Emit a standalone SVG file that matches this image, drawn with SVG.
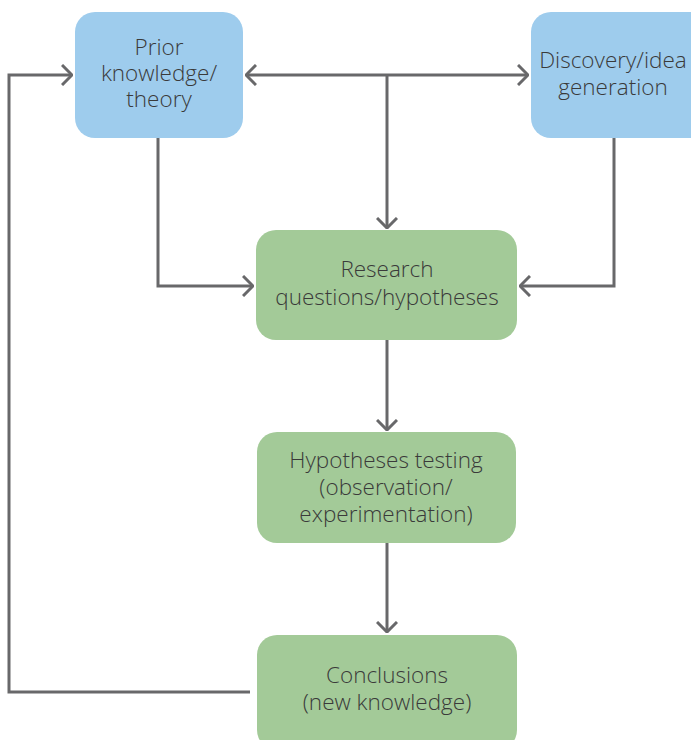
<svg xmlns="http://www.w3.org/2000/svg" width="691" height="740" viewBox="0 0 691 740">
<style>
.blue{fill:#9ecced}
.green{fill:#a3ca98}
text{font-family:"Open Sans","Liberation Sans",sans-serif;font-weight:300;font-size:22.5px;fill:#3a3a3a;text-anchor:middle}
.c{fill:none;stroke:#68686a;stroke-width:3}
</style>
<defs>
<marker id="ah" viewBox="0 0 12 22" refX="11" refY="11" markerWidth="12" markerHeight="22" markerUnits="userSpaceOnUse" orient="auto-start-reverse">
<path d="M1,1 L11,11 L1,21" fill="none" stroke="#68686a" stroke-width="3"/>
</marker>
</defs>
<g id="connectors">
<path class="c" d="M250,692 H9 V75 H72" marker-end="url(#ah)"/>
<path class="c" d="M246,75 H528" marker-start="url(#ah)" marker-end="url(#ah)"/>
<path class="c" d="M387,75 V228" marker-end="url(#ah)"/>
<path class="c" d="M158,138 V286 H253" marker-end="url(#ah)"/>
<path class="c" d="M614,138 V286 H520" marker-end="url(#ah)"/>
<path class="c" d="M387,340 V430" marker-end="url(#ah)"/>
<path class="c" d="M387,543 V632" marker-end="url(#ah)"/>
</g>
<g id="prior">
<rect class="blue" x="75" y="12" width="168" height="126" rx="20"/>
<text x="159" y="55">Prior</text>
<text x="159" y="81">knowledge/</text>
<text x="159" y="107">theory</text>
</g>
<g id="discovery">
<rect class="blue" x="531" y="12" width="180" height="126" rx="20"/>
<text x="613" y="68">Discovery/idea</text>
<text x="613" y="95">generation</text>
</g>
<g id="research">
<rect class="green" x="256" y="230" width="261" height="110" rx="20"/>
<text x="387" y="277">Research</text>
<text x="387" y="305">questions/hypotheses</text>
</g>
<g id="testing">
<rect class="green" x="257" y="432" width="259" height="111" rx="20"/>
<text x="386" y="468">Hypotheses testing</text>
<text x="386" y="495">(observation/</text>
<text x="386" y="522">experimentation)</text>
</g>
<g id="conclusions">
<rect class="green" x="257" y="635" width="260" height="115" rx="20"/>
<text x="387" y="683">Conclusions</text>
<text x="387" y="710">(new knowledge)</text>
</g>
</svg>
